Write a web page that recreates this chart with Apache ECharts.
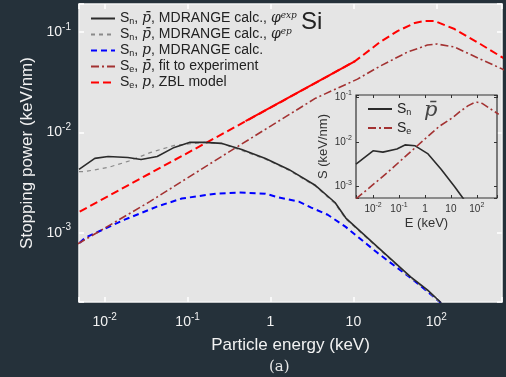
<!DOCTYPE html>
<html><head><meta charset="utf-8">
<script src="https://cdn.jsdelivr.net/npm/echarts@6/dist/echarts.min.js"></script>
<style>html,body{margin:0;padding:0;background:#25313a;}#c{width:506px;height:377px;}</style>
</head><body><div id="c"></div>
<script>
// ---- data (keV, keV/nm) ----
const eSnExp = [0.0049,0.0076,0.011,0.019,0.0275,0.043,0.069,0.105,0.16,0.26,0.45,0.87,1.66,3.5,6.0,8.1,19.5,49,78,112,130];
const sSnExp = [0.00427,0.0055,0.00575,0.00562,0.00537,0.00575,0.00708,0.00794,0.00794,0.00776,0.00676,0.0055,0.00427,0.00295,0.0020,0.0014,0.000724,0.000363,0.000269,0.000204,0.000166];
const eSnEp = [0.0049,0.0058,0.011,0.019,0.036,0.069,0.16,0.26,0.45,0.87,1.66,3.5,6.0,8.1,19.5,49,78,112,130];
const sSnEp = [0.00407,0.00407,0.00447,0.00513,0.00631,0.00741,0.00794,0.0077,0.0066,0.0054,0.0042,0.0029,0.00195,0.00137,0.00071,0.000356,0.000264,0.0002,0.000163];
const eSnP = [0.005,0.0058,0.0174,0.0427,0.085,0.22,0.42,0.87,1.26,2.2,3.1,4.9,8.0,19.5,49,74,110,130];
const sSnP = [0.000794,0.000891,0.00135,0.00182,0.00219,0.00245,0.00251,0.00245,0.00224,0.00204,0.00178,0.00151,0.00115,0.00063,0.000355,0.000269,0.000204,0.000158];
const eSeAnti = [0.0022,0.005,0.035,0.3,3.5,11.2,21,45,78,102,166,339,589,700];
const sSeAnti = [0.000537,0.000794,0.00204,0.00622,0.0219,0.0339,0.0457,0.0631,0.0741,0.0759,0.0708,0.0537,0.0437,0.041];
const eSeZBL = [0.005,0.035,1.0,10.5,21,34,55,72,95,166,339,589,700];
const sSeZBL = [0.00162,0.00389,0.0176,0.0513,0.0794,0.102,0.123,0.129,0.129,0.107,0.0759,0.0575,0.053];
const eSeFitSolid = [0.5,10.5];
const sSeFitSolid = [0.0129,0.0513];
const eInsetSn = [0.0022,0.01,0.024,0.083,0.17,0.42,1.32,4.2,14,29,40];
const sInsetSn = [0.00316,0.00631,0.00589,0.00692,0.00851,0.00813,0.00537,0.00245,0.001,0.000562,0.00042];
const xTicks = ['10^-2','10^-1','1','10','10^2'];
const yTicks = ['10^-1','10^-2','10^-3'];
const legendNames = ['Sn_pbar_exp','Sn_pbar_ep','Sn_p','Se_pbar_fit','Se_p_ZBL'];

const pairs = (e, s) => e.map((v, i) => [v, s[i]]);
const FONT = 'Liberation Sans';

function supFmt(v) {
  const l = Math.log10(v); const e = Math.round(l);
  if (Math.abs(l - e) > 1e-6) return '';
  if (e === 0) return '1';
  if (e === 1) return '10';
  return '10{sup|' + e + '}';
}
const legendLabels = {
  Sn_pbar_exp: 'S{sub|n}, {it|p̄}, MDRANGE calc., {it|φ}{sup|exp}',
  Sn_pbar_ep: 'S{sub|n}, {it|p̄}, MDRANGE calc., {it|φ}{sup|ep}',
  Sn_p: 'S{sub|n}, {it|p}, MDRANGE calc.',
  Se_pbar_fit: 'S{sub|e}, {it|p̄}, fit to experiment',
  Se_p_ZBL: 'S{sub|e}, {it|p}, ZBL model',
  inSn: 'S{sub|n}', inSe: 'S{sub|e}'
};
const richLegend = {
  sub: {fontSize: 9, verticalAlign: 'bottom', fontFamily: FONT, color: '#222'},
  sup: {fontSize: 9, verticalAlign: 'top', fontFamily: 'DejaVu Serif', fontStyle: 'italic', color: '#222'},
  it: {fontSize: 14, fontFamily: 'DejaVu Serif', fontStyle: 'italic', color: '#222'}
};

const mainX = {type: 'log', min: 0.0049, max: 620, gridIndex: 0};
const mainY = {type: 'log', min: 0.000204, max: 0.19, gridIndex: 0};
const inX = {type: 'log', min: 0.0022, max: 600, gridIndex: 1};
const inY = {type: 'log', min: 0.00056, max: 0.11, gridIndex: 1};

const tickMain = {show: true, inside: true, length: 5, lineStyle: {color: '#ffffff', width: 1.5}};
const tickIn = {show: true, inside: true, length: 3, lineStyle: {color: '#333', width: 1}};
const hidden = {axisLabel: {show: false}, splitLine: {show: false}, axisLine: {show: false}, minorTick: {show: false}};
const noSymbol = {opacity: 0, borderWidth: 0, color: 'rgba(0,0,0,0)'};

const chart = echarts.init(document.getElementById('c'), null, {renderer: 'canvas'});
chart.setOption({
  backgroundColor: '#25313a',
  animation: false,
  grid: [
    {left: 79, top: 4, right: 4, bottom: 75, show: true, backgroundColor: '#e5e5e5', borderColor: '#f4f4f4', borderWidth: 1.5, z: 0},
    {left: 356, top: 95, width: 141, height: 103, show: true, backgroundColor: '#e5e5e5', borderColor: '#333', borderWidth: 1.2, z: 10}
  ],
  xAxis: [
    Object.assign({}, mainX, {position: 'bottom', axisTick: tickMain, axisLine: {show: false}, splitLine: {show: false},
      axisLabel: {formatter: supFmt, color: '#f2f2f2', fontSize: 14, fontFamily: FONT, margin: 10, lineHeight: 20,
        rich: {sup: {fontSize: 10, verticalAlign: 'top', color: '#f2f2f2', fontFamily: FONT}}},
      name: 'Particle energy (keV)', nameLocation: 'middle', nameGap: 29,
      nameTextStyle: {color: '#f2f2f2', fontSize: 17, fontFamily: FONT}}),
    Object.assign({}, mainX, hidden, {position: 'top', axisTick: tickMain}),
    Object.assign({}, inX, {position: 'bottom', axisTick: tickIn, axisLine: {show: false}, splitLine: {show: false}, z: 11,
      axisLabel: {formatter: supFmt, color: '#333', fontSize: 10, fontFamily: FONT, margin: 4, lineHeight: 14,
        rich: {sup: {fontSize: 7, verticalAlign: 'top', color: '#333', fontFamily: FONT}}},
      name: 'E (keV)', nameLocation: 'middle', nameGap: 16,
      nameTextStyle: {color: '#333', fontSize: 13, fontFamily: FONT}}),
    Object.assign({}, inX, hidden, {position: 'top', axisTick: tickIn, z: 11})
  ],
  yAxis: [
    Object.assign({}, mainY, {position: 'left', axisTick: tickMain, axisLine: {show: false}, splitLine: {show: false},
      axisLabel: {formatter: supFmt, color: '#f2f2f2', fontSize: 14, fontFamily: FONT, margin: 8, lineHeight: 20,
        rich: {sup: {fontSize: 10, verticalAlign: 'top', color: '#f2f2f2', fontFamily: FONT}}},
      name: 'Stopping power (keV/nm)', nameLocation: 'middle', nameGap: 30,
      nameTextStyle: {color: '#f2f2f2', fontSize: 17, fontFamily: FONT}}),
    Object.assign({}, mainY, hidden, {position: 'right', axisTick: tickMain}),
    Object.assign({}, inY, {position: 'left', axisTick: tickIn, axisLine: {show: false}, splitLine: {show: false}, z: 11,
      axisLabel: {formatter: supFmt, color: '#333', fontSize: 10, fontFamily: FONT, margin: 4, lineHeight: 14,
        rich: {sup: {fontSize: 7, verticalAlign: 'top', color: '#333', fontFamily: FONT}}},
      name: 'S (keV/nm)', nameLocation: 'middle', nameGap: 26,
      nameTextStyle: {color: '#333', fontSize: 13, fontFamily: FONT}}),
    Object.assign({}, inY, hidden, {position: 'right', axisTick: tickIn, z: 11})
  ],
  legend: [
    {data: legendNames, orient: 'vertical', left: 85, top: 6, itemWidth: 24, itemHeight: 14, itemGap: 1,
      formatter: n => legendLabels[n], itemStyle: noSymbol,
      textStyle: {color: '#222', fontSize: 14, fontFamily: FONT, lineHeight: 15, rich: richLegend}},
    {data: ['inSn', 'inSe'], orient: 'vertical', left: 362, top: 96, itemWidth: 24, itemHeight: 14, itemGap: 3, z: 12,
      formatter: n => legendLabels[n], itemStyle: noSymbol,
      textStyle: {color: '#222', fontSize: 14, fontFamily: FONT, lineHeight: 16, rich: richLegend}}
  ],
  graphic: [
    {type: 'text', left: 301, top: 10, z: 5, style: {text: 'Si', fill: '#222', font: '24px "Liberation Sans"'}},
    {type: 'text', left: 424, top: 100, z: 20, style: {text: 'p̄', fill: '#444', font: 'italic 21px "DejaVu Serif"'}},
    {type: 'text', left: 269, top: 360, style: {text: '(a)', fill: '#e8e8e8', font: '15px "DejaVu Serif"'}}
  ],
  series: [
    {name: 'Sn_pbar_exp', type: 'line', xAxisIndex: 0, yAxisIndex: 0, symbol: 'none', data: pairs(eSnExp, sSnExp),
      lineStyle: {color: '#2b2b2b', width: 1.6}, itemStyle: {color: '#2b2b2b'}, z: 5},
    {name: 'Sn_pbar_ep', type: 'line', xAxisIndex: 0, yAxisIndex: 0, symbol: 'none', data: pairs(eSnEp, sSnEp),
      lineStyle: {color: '#8a8a8a', width: 1.2, type: [4, 4]}, itemStyle: {color: '#8a8a8a'}, z: 4},
    {name: 'Sn_p', type: 'line', xAxisIndex: 0, yAxisIndex: 0, symbol: 'none', data: pairs(eSnP, sSnP),
      lineStyle: {color: '#0000ff', width: 2, type: [6, 4]}, itemStyle: {color: '#0000ff'}, z: 3},
    {name: 'Se_pbar_fit', type: 'line', xAxisIndex: 0, yAxisIndex: 0, symbol: 'none', data: pairs(eSeAnti, sSeAnti),
      lineStyle: {color: '#a33232', width: 1.6, type: [8, 3, 2, 3]}, itemStyle: {color: '#a33232'}, z: 3},
    {name: 'Se_p_ZBL', type: 'line', xAxisIndex: 0, yAxisIndex: 0, symbol: 'none', data: pairs(eSeZBL, sSeZBL),
      lineStyle: {color: '#ff0000', width: 2, type: [8, 4]}, itemStyle: {color: '#ff0000'}, z: 3},
    {name: 'Se_p_solid', type: 'line', xAxisIndex: 0, yAxisIndex: 0, symbol: 'none', data: pairs(eSeFitSolid, sSeFitSolid),
      lineStyle: {color: '#ff0000', width: 2}, z: 3},
    {name: 'inSn', type: 'line', xAxisIndex: 2, yAxisIndex: 2, symbol: 'none', data: pairs(eInsetSn, sInsetSn),
      lineStyle: {color: '#2b2b2b', width: 1.6}, itemStyle: {color: '#2b2b2b'}, z: 12},
    {name: 'inSe', type: 'line', xAxisIndex: 2, yAxisIndex: 2, symbol: 'none', data: pairs(eSeAnti, sSeAnti),
      lineStyle: {color: '#a33232', width: 1.6, type: [8, 3, 2, 3]}, itemStyle: {color: '#a33232'}, z: 12}
  ]
});
</script></body></html>
